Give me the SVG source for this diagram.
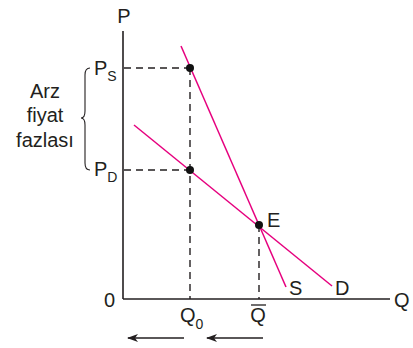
<svg xmlns="http://www.w3.org/2000/svg" width="413" height="348" viewBox="0 0 413 348">
<style>
text{font-family:"Liberation Sans",Arial,sans-serif;fill:#231f20}
.t{font-size:20px}
.s{font-size:14px}
.ax{stroke:#231f20;stroke-width:1.6;fill:none}
.dash{stroke:#231f20;stroke-width:1.4;stroke-dasharray:7 5;fill:none}
.curve{stroke:#e6007e;stroke-width:1.5;fill:none}
.arr{stroke:#231f20;stroke-width:1.5;fill:none}
</style>
<defs>
<marker id="ah" markerWidth="12" markerHeight="10" refX="10" refY="5" orient="auto" markerUnits="userSpaceOnUse">
<path d="M11,5 L0,1 L3,5 L0,9 Z" fill="#231f20"/>
</marker>
</defs>
<g id="axes">
<line class="ax" x1="123" y1="31" x2="123" y2="299"/>
<line class="ax" x1="123" y1="299" x2="390" y2="299"/>
<text class="t" x="124" y="23" text-anchor="middle">P</text>
<text class="t" x="394" y="307">Q</text>
<text class="t" x="104" y="307">0</text>
</g>
<g id="connectors">
<line class="dash" x1="124" y1="68" x2="190" y2="68"/>
<line class="dash" x1="124" y1="170" x2="190" y2="170"/>
<line class="dash" x1="190" y1="68" x2="190" y2="299"/>
<line class="dash" x1="259" y1="225" x2="259" y2="299"/>
<line class="arr" x1="184" y1="338" x2="128" y2="338" marker-end="url(#ah)"/>
<line class="arr" x1="263" y1="338" x2="207" y2="338" marker-end="url(#ah)"/>
</g>
<g id="supply">
<line class="curve" x1="181" y1="46" x2="286" y2="287"/>
<text class="t" x="289" y="295">S</text>
</g>
<g id="demand">
<line class="curve" x1="134" y1="125" x2="332" y2="286"/>
<text class="t" x="335" y="295">D</text>
</g>
<g id="pointPs"><circle cx="190" cy="68" r="4" fill="#111"/></g>
<g id="pointPd"><circle cx="190" cy="170" r="4" fill="#111"/></g>
<g id="pointE">
<circle cx="259" cy="225" r="4" fill="#111"/>
<text class="t" x="267" y="227">E</text>
</g>
<g id="labelPs"><text class="t" x="94" y="75">P<tspan class="s" dy="6">S</tspan></text></g>
<g id="labelPd"><text class="t" x="94" y="176">P<tspan class="s" dy="6">D</tspan></text></g>
<g id="labelQ0"><text class="t" x="180" y="322">Q<tspan class="s" dy="7">0</tspan></text></g>
<g id="labelQbar">
<text class="t" x="258" y="322" text-anchor="middle">Q</text>
<line x1="251" y1="305" x2="266" y2="305" stroke="#231f20" stroke-width="1.3"/>
</g>
<g id="brace">
<path d="M90,68 Q85,68 85,75 L85,111 Q85,118 81,118 Q85,118 85,125 L85,163 Q85,170 90,170" fill="none" stroke="#231f20" stroke-width="1.1"/>
<text class="t" x="45" y="98" text-anchor="middle">Arz</text>
<text class="t" x="45" y="122" text-anchor="middle">fiyat</text>
<text class="t" x="45" y="147" text-anchor="middle">fazlası</text>
</g>
</svg>
